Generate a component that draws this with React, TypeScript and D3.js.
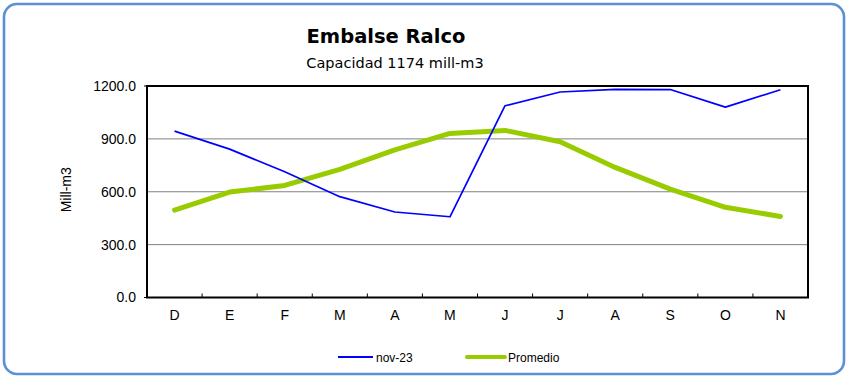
import React from "react";
import * as d3 from "d3";

const categories = ["D", "E", "F", "M", "A", "M", "J", "J", "A", "S", "O", "N"];
const nov23 = [944, 842, 713, 572, 485, 458, 1088, 1166, 1181, 1180, 1080, 1179];
const promedio = [496, 598, 636, 727, 837, 931, 948, 884, 738, 615, 512, 460];
const yTicks = [0, 300, 600, 900, 1200];

const W = 848;
const H = 377;
const left = 147;
const right = 808;
const top = 86;
const bottom = 297.5;

export default function App() {
  const x = d3.scaleBand<number>().domain(d3.range(categories.length)).range([left, right]).padding(0);
  const y = d3.scaleLinear().domain([0, 1200]).range([bottom, top]);
  const cx = (i: number) => (x(i) as number) + x.bandwidth() / 2;
  const line = d3.line<number>().x((_, i) => cx(i)).y((d) => y(d));
  const font = "'Liberation Sans', Arial, sans-serif";
  return (
    <svg width={W} height={H} style={{ position: "absolute", left: 0, top: 0 }}>
      <rect x={0} y={0} width={W} height={H} fill="#fff" />
      <rect x={4} y={4} width={840} height={370} rx={13} fill="#fff" stroke="#5B8FD8" strokeWidth={2.6} />
      <text x={386} y={42.5} textAnchor="middle" fontFamily="'DejaVu Sans', Tahoma, sans-serif" fontWeight="bold" fontSize={19.5}>
        Embalse Ralco
      </text>
      <text x={395} y={68} textAnchor="middle" fontFamily="'DejaVu Sans', Tahoma, sans-serif" fontSize={14.5}>
        Capacidad 1174 mill-m3
      </text>
      {yTicks.filter((t) => t > 0 && t < 1200).map((t) => (
        <line key={t} x1={left} x2={right} y1={y(t)} y2={y(t)} stroke="#808080" strokeWidth={1} />
      ))}
      {yTicks.map((t) => (
        <text key={"l" + t} x={136} y={y(t)} dy="0.35em" textAnchor="end" fontFamily={font} fontSize={14}>
          {t.toFixed(1)}
        </text>
      ))}
      <line x1={left - 3} x2={left} y1={y(0)} y2={y(0)} stroke="#000" />
      <line x1={left - 3} x2={left} y1={y(1200)} y2={y(1200)} stroke="#000" />
      {d3.range(1, categories.length).map((i) => (
        <line key={"t" + i} x1={x(i) as number} x2={x(i) as number} y1={bottom} y2={bottom - 4} stroke="#000" strokeWidth={1} />
      ))}
      <rect x={left} y={top} width={right - left} height={bottom - top} fill="none" stroke="#000" strokeWidth={2} />
      {categories.map((c, i) => (
        <text key={"c" + i} x={cx(i)} y={320} textAnchor="middle" fontFamily={font} fontSize={14}>
          {c}
        </text>
      ))}
      <text transform={`translate(71,${(top + bottom) / 2 - 2}) rotate(-90)`} textAnchor="middle" fontFamily={font} fontSize={14}>
        Mill-m3
      </text>
      <path d={line(promedio) || ""} fill="none" stroke="#99CC00" strokeWidth={5} strokeLinejoin="round" strokeLinecap="round" />
      <path d={line(nov23) || ""} fill="none" stroke="#0000FF" strokeWidth={1.7} strokeLinejoin="round" />
      <line x1={338} x2={373} y1={357} y2={357} stroke="#0000FF" strokeWidth={2} />
      <text x={376} y={361.5} fontFamily={font} fontSize={12}>nov-23</text>
      <line x1={467} x2={505} y1={357} y2={357} stroke="#99CC00" strokeWidth={4} strokeLinecap="round" />
      <text x={508} y={361.5} fontFamily={font} fontSize={12}>Promedio</text>
    </svg>
  );
}
